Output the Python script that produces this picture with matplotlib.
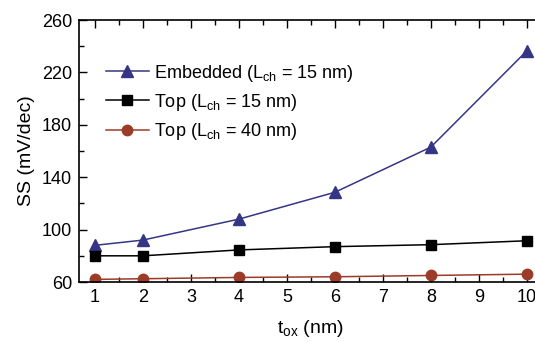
import matplotlib
matplotlib.use('Agg')
import matplotlib.pyplot as plt
from matplotlib.ticker import MultipleLocator

plt.rcParams['font.family'] = ['Liberation Sans', 'DejaVu Sans']
plt.rcParams['mathtext.fontset'] = 'custom'
plt.rcParams['mathtext.rm'] = 'Liberation Sans'

tox = [1, 2, 4, 6, 8, 10]
ss_embedded = [88, 92, 108, 128.5, 163, 236.5]
ss_top15 = [80, 80, 84.5, 87, 88.5, 91.5]
ss_top40 = [62, 62.5, 63.5, 64, 65, 66]

fig = plt.figure(figsize=(5.35, 3.42), dpi=100)
ax = fig.add_axes([0.1477, 0.1754, 0.8667, 0.766])

ax.plot(tox, ss_embedded, '-^', color='#353585', ms=8.5, lw=1.1,
        label=r'Embedded (L$_{\rm ch}$ = 15 nm)')
ax.plot(tox, ss_top15, '-s', color='black', ms=7, lw=1.1,
        label=r'Top (L$_{\rm ch}$ = 15 nm)')
ax.plot(tox, ss_top40, '-o', color='#9b3b28', ms=7.5, lw=1.1,
        label=r'Top (L$_{\rm ch}$ = 40 nm)')

ax.set_xlim(0.67, 10.33)
ax.set_ylim(60, 260)
ax.xaxis.set_major_locator(MultipleLocator(1))
ax.xaxis.set_minor_locator(MultipleLocator(0.5))
ax.set_yticks(range(60, 261, 40))
ax.set_yticks(range(80, 261, 40), minor=True)
ax.tick_params(which='both', direction='in', top=True, right=True,
               labelsize=13, width=1)
ax.tick_params(which='major', length=6, pad=5)
ax.tick_params(which='minor', length=3.5)
for s in ax.spines.values():
    s.set_linewidth(1.2)

# the label sits close to the bottom edge, keep it just inside
ax.set_xlabel(r't$_{\rm ox}$ (nm)', fontsize=14, labelpad=9)
ax.set_ylabel('SS (mV/dec)', fontsize=14, labelpad=5)

ax.legend(loc='upper left', bbox_to_anchor=(0.042, 0.865), frameon=False,
          fontsize=13, handlelength=2.4, handletextpad=0.3,
          labelspacing=0.45, borderaxespad=0)

fig.savefig('out.png', dpi=100)
